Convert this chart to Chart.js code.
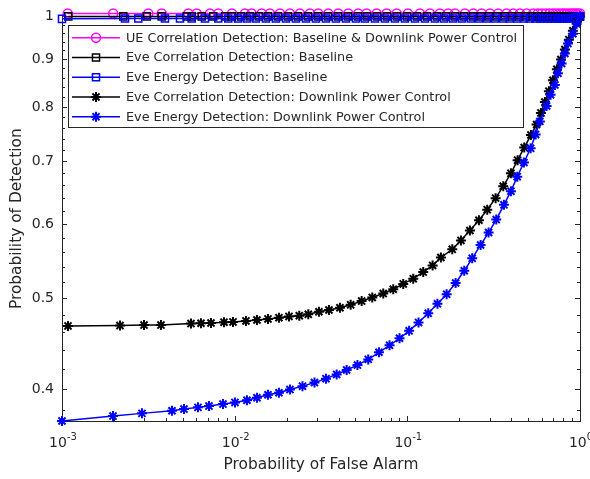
<!DOCTYPE html>
<html>
<head>
<meta charset="utf-8">
<script src="https://cdn.jsdelivr.net/npm/chart.js@4.4.1/dist/chart.umd.min.js"></script>
<style>
  html, body { margin: 0; padding: 0; background: #fff; }
</style>
</head>
<body>
<canvas id="myChart" width="590" height="479"></canvas>
<script>
// 刻度
const xTickValues = [0.001, 0.01, 0.1, 1];
const xTickBase = "10";
const xTickExponents = ["-3", "-2", "-1", "0"];
const xMinorTicks = [0.002, 0.003, 0.004, 0.005, 0.006, 0.007, 0.008, 0.009,
  0.02, 0.03, 0.04, 0.05, 0.06, 0.07, 0.08, 0.09,
  0.2, 0.3, 0.4, 0.5, 0.6, 0.7, 0.8, 0.9];
const yTickValues = [0.4, 0.5, 0.6, 0.7, 0.8, 0.9, 1];
const yTickLabels = ["0.4", "0.5", "0.6", "0.7", "0.8", "0.9", "1"];
const yMinorTicks = [0.38, 0.42, 0.44, 0.46, 0.48, 0.52, 0.54, 0.56, 0.58,
  0.62, 0.64, 0.66, 0.68, 0.72, 0.74, 0.76, 0.78, 0.82, 0.84, 0.86, 0.88,
  0.92, 0.94, 0.96, 0.98];

const seriesNames = [
  "UE Correlation Detection: Baseline & Downlink Power Control",
  "Eve Correlation Detection: Baseline",
  "Eve Energy Detection: Baseline",
  "Eve Correlation Detection: Downlink Power Control",
  "Eve Energy Detection: Downlink Power Control",
];

// UE 相關檢測 (洋紅圓圈)
const pfaUe = [1.079e-3, 1.98e-3, 3.16e-3, 3.78e-3, 5.39e-3, 6.03e-3, 7.19e-3, 8.04e-3, 9.65e-3,
  1.147e-2, 1.254e-2, 1.433e-2, 1.601e-2, 1.83e-2, 2.09e-2, 2.388e-2, 2.729e-2, 3.049e-2, 3.484e-2,
  3.981e-2, 4.548e-2, 5.196e-2, 5.813e-2, 6.642e-2, 7.589e-2, 8.67e-2, 0.1008, 0.1183, 0.1352,
  0.1544, 0.1725, 0.1887, 0.2156, 0.2408, 0.2693, 0.3008, 0.336, 0.3758, 0.4104,
  0.4487, 0.4907, 0.5358, 0.5705, 0.6017, 0.6346, 0.6649, 0.6966, 0.7251, 0.7547,
  0.7855, 0.8121, 0.8397, 0.8681, 0.8976, 0.9218, 0.9468, 0.9724, 1.0];
const pdUe = [1.007, 1.007, 1.007, 1.007, 1.007, 1.007, 1.007, 1.007, 1.007,
  1.007, 1.007, 1.007, 1.007, 1.007, 1.007, 1.007, 1.007, 1.007, 1.007,
  1.007, 1.007, 1.007, 1.007, 1.007, 1.007, 1.007, 1.007, 1.007, 1.007,
  1.007, 1.007, 1.007, 1.007, 1.007, 1.007, 1.007, 1.007, 1.007, 1.007,
  1.007, 1.007, 1.007, 1.007, 1.007, 1.007, 1.007, 1.007, 1.007, 1.007,
  1.007, 1.007, 1.007, 1.007, 1.007, 1.007, 1.007, 1.007, 1.007];

// Eve 相關檢測 基線 (黑方框)
const pfaEveCorrBase = [1.087e-3, 2.264e-3, 3.094e-3, 3.779e-3, 5.272e-3, 5.637e-3, 6.441e-3, 7.518e-3, 8.788e-3, 9.607e-3,
  1.088e-2, 1.226e-2, 1.382e-2, 1.559e-2, 1.781e-2, 2.035e-2, 2.325e-2, 2.658e-2, 3.037e-2, 3.47e-2,
  3.965e-2, 4.53e-2, 5.176e-2, 5.836e-2, 6.668e-2, 7.619e-2, 8.705e-2, 9.947e-2, 0.1137, 0.1299,
  0.1484, 0.1673, 0.1887, 0.2127, 0.2398, 0.2668, 0.2969, 0.3302, 0.3673, 0.4033,
  0.4428, 0.4862, 0.5266, 0.563, 0.5938, 0.6263, 0.6605, 0.6874, 0.7155, 0.7448,
  0.7751, 0.8067, 0.8341, 0.8622, 0.8916, 0.9218, 0.9468, 0.9724, 1.0];
const pdEveCorrBase = [1, 1, 1, 1, 1, 1, 1, 1, 1, 1,
  1, 1, 1, 1, 1, 1, 1, 1, 1, 1,
  1, 1, 1, 1, 1, 1, 1, 1, 1, 1,
  1, 1, 1, 1, 1, 1, 1, 1, 1, 1,
  1, 1, 1, 1, 1, 1, 1, 1, 1, 1,
  1, 1, 1, 1, 1, 1, 1, 1, 1];

// Eve 能量檢測 基線 (藍方框)
const pfaEveEnerBase = [1.0e-3, 2.317e-3, 2.766e-3, 3.948e-3, 4.824e-3, 5.637e-3, 6.731e-3, 8.035e-3, 9.183e-3,
  1.045e-2, 1.178e-2, 1.328e-2, 1.518e-2, 1.734e-2, 1.982e-2, 2.264e-2, 2.588e-2, 2.957e-2, 3.379e-2,
  3.86e-2, 4.411e-2, 5.04e-2, 5.683e-2, 6.493e-2, 7.418e-2, 8.477e-2, 9.685e-2, 0.1107, 0.1265,
  0.1445, 0.1629, 0.1837, 0.2071, 0.2335, 0.2598, 0.289, 0.3215, 0.3577, 0.3927,
  0.4312, 0.4734, 0.5128, 0.5519, 0.5858, 0.6179, 0.6518, 0.683, 0.7155, 0.7448,
  0.7751, 0.8013, 0.8286, 0.8566, 0.8857, 0.9157, 0.9405, 0.9659, 0.9855, 1.0];
const pdEveEnerBase = [0.994, 0.995, 0.995, 0.995, 0.995, 0.995, 0.995, 0.995, 0.995,
  0.995, 0.995, 0.995, 0.995, 0.995, 0.995, 0.995, 0.995, 0.995, 0.995,
  0.995, 0.995, 0.995, 0.995, 0.995, 0.995, 0.995, 0.995, 0.995, 0.995,
  0.995, 0.995, 0.995, 0.995, 0.995, 0.995, 0.995, 0.995, 0.995, 0.995,
  0.995, 0.995, 0.995, 0.995, 0.995, 0.995, 0.995, 0.995, 0.995, 0.995,
  0.995, 0.995, 0.995, 0.995, 0.996, 0.996, 0.997, 0.998, 0.999, 1.0];

// Eve 相關檢測 下行功率控制 (黑星號)
const pfaEveCorrPc = [1.083e-3, 2.167e-3, 2.985e-3, 3.743e-3, 5.585e-3, 6.381e-3, 7.291e-3, 8.675e-3, 9.78e-3,
  1.162e-2, 1.346e-2, 1.559e-2, 1.805e-2, 2.063e-2, 2.367e-2, 2.669e-2, 3.077e-2, 3.516e-2, 4.072e-2,
  4.696e-2, 5.438e-2, 6.264e-2, 7.253e-2, 8.289e-2, 9.47e-2, 0.1082, 0.1236, 0.1401, 0.1565,
  0.182, 0.2044, 0.2304, 0.2598, 0.2902, 0.3246, 0.3593, 0.398, 0.4352, 0.4752,
  0.5196, 0.5608, 0.5937, 0.6263, 0.6605, 0.6967, 0.7348, 0.7751, 0.8175, 0.8622,
  0.9095, 0.9596, 1.0];
const pdEveCorrPc = [0.467, 0.4674, 0.468, 0.468, 0.4697, 0.4701, 0.4704, 0.4713, 0.4716,
  0.4728, 0.4739, 0.4751, 0.4766, 0.478, 0.4789, 0.4805, 0.4836, 0.4856, 0.4883,
  0.4919, 0.4964, 0.5009, 0.5057, 0.5111, 0.5178, 0.5246, 0.5331, 0.5419, 0.5526,
  0.5638, 0.5763, 0.5906, 0.6057, 0.6216, 0.6395, 0.6585, 0.6797, 0.7021, 0.7242,
  0.7469, 0.7665, 0.7886, 0.81, 0.832, 0.8547, 0.8779, 0.8995, 0.9217, 0.9444,
  0.9653, 0.9867, 1.0];

// Eve 能量檢測 下行功率控制 (藍星號)
const pfaEveEnerPc = [1.0e-3, 1.974e-3, 2.906e-3, 4.335e-3, 5.087e-3, 6.131e-3, 7.1e-3, 8.557e-3, 1.004e-2,
  1.178e-2, 1.346e-2, 1.559e-2, 1.805e-2, 2.09e-2, 2.47e-2, 2.899e-2, 3.379e-2, 3.896e-2,
  4.452e-2, 5.141e-2, 5.937e-2, 6.85e-2, 7.888e-2, 9.013e-2, 0.1024, 0.1161, 0.1321,
  0.1494, 0.1689, 0.1904, 0.2136, 0.2375, 0.2657, 0.2956, 0.3272, 0.3626,
  0.398, 0.4329, 0.4734, 0.5176, 0.5534, 0.5858, 0.6406, 0.6756, 0.7155,
  0.7447, 0.7824, 0.8175, 0.8511, 0.9095, 0.9557, 1.0];
const pdEveEnerPc = [0.3696, 0.3741, 0.3766, 0.379, 0.3806, 0.3822, 0.3834, 0.3853, 0.3869,
  0.389, 0.3914, 0.3943, 0.3962, 0.3993, 0.4027, 0.4062, 0.4102, 0.4145,
  0.419, 0.4241, 0.4301, 0.4377, 0.4452, 0.453, 0.4614, 0.471, 0.4817,
  0.4931, 0.5049, 0.519, 0.5349, 0.5515, 0.5699, 0.5876, 0.6066, 0.6291,
  0.6505, 0.6742, 0.6981, 0.7229, 0.748, 0.7724, 0.8021, 0.8246, 0.8449,
  0.8694, 0.8908, 0.9128, 0.9353, 0.9584, 0.982, 1.0];

const FONT = '"DejaVu Sans", sans-serif';
const axisColor = "#262626";

const toPoints = (xs, ys) => xs.map((v, i) => ({ x: v, y: ys[i] }));

function makeSet(idx, xs, ys, color, style, radius, pointWidth, order) {
  return {
    label: seriesNames[idx],
    data: toPoints(xs, ys),
    borderColor: color,
    borderWidth: 1.5,
    pointStyle: style,
    pointRadius: radius,
    pointBorderColor: color,
    pointBackgroundColor: "rgba(0,0,0,0)",
    pointBorderWidth: pointWidth,
    tension: 0,
    fill: false,
    clip: false,
    order,
  };
}

const datasets = [
  makeSet(0, pfaUe, pdUe, "#FF00FF", "circle", 4.5, 1.5, 5),
  makeSet(1, pfaEveCorrBase, pdEveCorrBase, "#000000", "rect", 5, 1.5, 4),
  makeSet(2, pfaEveEnerBase, pdEveEnerBase, "#0000FF", "rect", 5, 1.5, 3),
  makeSet(3, pfaEveCorrPc, pdEveCorrPc, "#000000", "star", 5, 2, 2),
  makeSet(4, pfaEveEnerPc, pdEveEnerPc, "#0000FF", "star", 5, 2, 1),
];

// 畫標記
function drawMarker(ctx, style, x, y, r) {
  ctx.beginPath();
  if (style === "circle") {
    ctx.arc(x, y, r, 0, 2 * Math.PI);
  } else if (style === "rect") {
    const s = r * Math.SQRT1_2;
    ctx.rect(x - s, y - s, 2 * s, 2 * s);
  } else if (style === "star") {
    const d = r * Math.SQRT1_2;
    ctx.moveTo(x - r, y); ctx.lineTo(x + r, y);
    ctx.moveTo(x, y - r); ctx.lineTo(x, y + r);
    ctx.moveTo(x - d, y - d); ctx.lineTo(x + d, y + d);
    ctx.moveTo(x - d, y + d); ctx.lineTo(x + d, y - d);
  }
  ctx.stroke();
}

// 外框與刻度 (MATLAB 風格, 刻度朝內)
const frameTicksPlugin = {
  id: "frameTicks",
  beforeDatasetsDraw(chart) {
    const { ctx, chartArea: { left, right, top, bottom }, scales: { x, y } } = chart;
    ctx.save();
    ctx.strokeStyle = axisColor;
    ctx.lineWidth = 1;
    ctx.beginPath();
    const xTick = (v, len) => {
      const px = Math.round(x.getPixelForValue(v)) + 0.5;
      ctx.moveTo(px, bottom); ctx.lineTo(px, bottom - len);
      ctx.moveTo(px, top); ctx.lineTo(px, top + len);
    };
    const yTick = (v, len) => {
      const py = Math.round(y.getPixelForValue(v)) + 0.5;
      ctx.moveTo(left, py); ctx.lineTo(left + len, py);
      ctx.moveTo(right, py); ctx.lineTo(right - len, py);
    };
    xTickValues.forEach((v) => xTick(v, 5));
    xMinorTicks.forEach((v) => xTick(v, 3));
    yTickValues.forEach((v) => yTick(v, 5));
    yMinorTicks.forEach((v) => yTick(v, 3));
    ctx.stroke();
    ctx.strokeRect(Math.round(left) + 0.5, Math.round(top) + 0.5,
      Math.round(right - left), Math.round(bottom - top));
    ctx.restore();
  },
  afterDraw(chart) {
    const { ctx, chartArea: { bottom }, scales: { x } } = chart;
    ctx.save();
    ctx.fillStyle = axisColor;
    ctx.textAlign = "left";
    ctx.textBaseline = "alphabetic";
    xTickValues.forEach((v, i) => {
      const px = x.getPixelForValue(v);
      ctx.font = "14px " + FONT;
      const wBase = ctx.measureText(xTickBase).width;
      ctx.font = "10px " + FONT;
      const wExp = ctx.measureText(xTickExponents[i]).width;
      const x0 = px - (wBase + wExp) / 2 + 1;
      ctx.font = "14px " + FONT;
      ctx.fillText(xTickBase, x0, bottom + 26);
      ctx.font = "10px " + FONT;
      ctx.fillText(xTickExponents[i], x0 + wBase, bottom + 19);
    });
    ctx.restore();
  },
};

// 圖例 (畫在圖內左上)
const legendBoxPlugin = {
  id: "legendBox",
  afterDraw(chart) {
    const { ctx } = chart;
    const boxX = 68, boxY = 25, boxW = 455, boxH = 102;
    const rowY0 = 37.7, rowGap = 19.75;
    ctx.save();
    ctx.fillStyle = "#ffffff";
    ctx.fillRect(boxX, boxY, boxW, boxH);
    ctx.strokeStyle = axisColor;
    ctx.lineWidth = 1;
    ctx.strokeRect(boxX + 0.5, boxY + 0.5, boxW, boxH);
    chart.data.datasets.forEach((ds, i) => {
      const yy = rowY0 + i * rowGap;
      ctx.strokeStyle = ds.borderColor;
      ctx.lineWidth = 1.5;
      ctx.beginPath();
      ctx.moveTo(72, yy);
      ctx.lineTo(120, yy);
      ctx.stroke();
      ctx.lineWidth = ds.pointBorderWidth;
      drawMarker(ctx, ds.pointStyle, 96, yy, ds.pointRadius);
      ctx.fillStyle = axisColor;
      ctx.font = "12.8px " + FONT;
      ctx.textAlign = "left";
      ctx.textBaseline = "middle";
      ctx.fillText(ds.label, 126, yy + 0.5);
    });
    ctx.restore();
  },
};

const ctx = document.getElementById("myChart").getContext("2d");
const myChart = new Chart(ctx, {
  type: "line",
  data: { datasets },
  options: {
    responsive: false,
    animation: false,
    events: [],
    layout: { padding: { top: 12, right: 10, bottom: 0, left: 0 } },
    scales: {
      x: {
        type: "logarithmic",
        min: 0.001,
        max: 1,
        afterBuildTicks: (scale) => {
          scale.ticks = xTickValues.map((v) => ({ value: v }));
        },
        afterFit: (scale) => { scale.height = 58; },
        border: { display: false },
        grid: { display: false, drawTicks: false, tickLength: 0 },
        ticks: { display: false },
        title: {
          display: true,
          text: "Probability of False Alarm",
          color: axisColor,
          font: { family: FONT, size: 15.4 },
          padding: { top: 0, bottom: 5 },
        },
      },
      y: {
        type: "logarithmic",
        min: 0.3696,
        max: 1,
        afterBuildTicks: (scale) => {
          scale.ticks = yTickValues.map((v) => ({ value: v }));
        },
        afterFit: (scale) => { scale.width = 62; },
        border: { display: false },
        grid: { display: false, drawTicks: false, tickLength: 0 },
        ticks: {
          autoSkip: false,
          color: axisColor,
          padding: 8,
          font: { family: FONT, size: 14 },
          callback: (value, index) => yTickLabels[index],
        },
        title: {
          display: true,
          text: "Probability of Detection",
          color: axisColor,
          font: { family: FONT, size: 15.4 },
          padding: { top: 8, bottom: 0 },
        },
      },
    },
    plugins: {
      legend: { display: false },
      tooltip: { enabled: false },
    },
  },
  plugins: [frameTicksPlugin, legendBoxPlugin],
});
</script>
</body>
</html>
